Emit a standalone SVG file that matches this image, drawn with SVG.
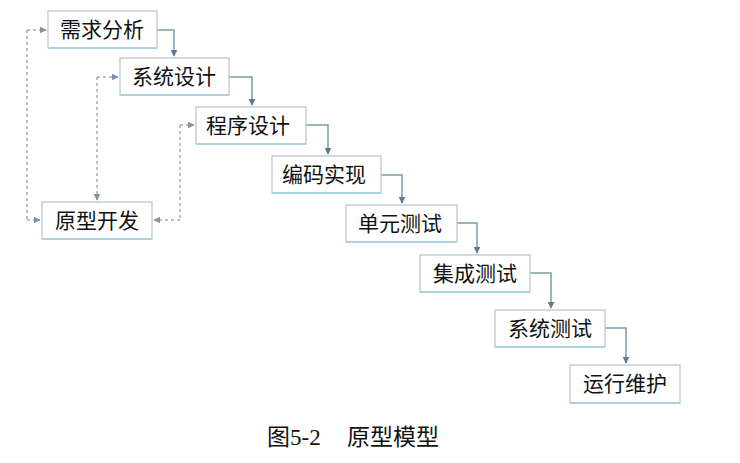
<svg xmlns="http://www.w3.org/2000/svg" width="740" height="463" viewBox="0 0 740 463">
<defs>
<style>
.box{fill:#ffffff;stroke:#b7c3c9;stroke-width:1.2}
.base{stroke:#a9d3dc;stroke-width:2}
.lbl{font-family:"Noto Sans CJK SC","Liberation Serif",serif;font-size:21px;fill:#111111;text-anchor:middle}
.flow{fill:none;stroke:#7d9aab;stroke-width:1.5}
.dash{fill:none;stroke:#a6acb2;stroke-width:1.5;stroke-dasharray:3 3}
.cap{font-family:"Liberation Serif","Noto Sans CJK SC",serif;font-size:23px;fill:#111111}
</style>
<marker id="ah" viewBox="0 0 10 10" refX="9" refY="5" markerWidth="7" markerHeight="7" orient="auto" markerUnits="userSpaceOnUse">
<path d="M0,0 L10,5 L0,10 z" fill="#5d7b90"/>
</marker>
<marker id="ahd" viewBox="0 0 10 10" refX="9" refY="5" markerWidth="7" markerHeight="7" orient="auto" markerUnits="userSpaceOnUse">
<path d="M0,0 L10,5 L0,10 z" fill="#7e94a6"/>
</marker>
</defs>
<rect width="740" height="463" fill="#ffffff"/>
<g id="connectors">
<path class="flow" d="M157,30 H174 V56" marker-end="url(#ah)"/>
<path class="flow" d="M229,77 H252 V105" marker-end="url(#ah)"/>
<path class="flow" d="M306,125 H328 V154" marker-end="url(#ah)"/>
<path class="flow" d="M381,175 H402 V203" marker-end="url(#ah)"/>
<path class="flow" d="M457,223 H477 V253" marker-end="url(#ah)"/>
<path class="flow" d="M530,273 H551 V308" marker-end="url(#ah)"/>
<path class="flow" d="M605,328 H626 V363" marker-end="url(#ah)"/>
<path class="dash" d="M27,30 V220"/>
<path class="dash" d="M27,30 H46" marker-end="url(#ahd)"/>
<path class="dash" d="M27,220 H40" marker-end="url(#ahd)"/>
<path class="dash" d="M97,77 V200" marker-end="url(#ahd)"/>
<path class="dash" d="M97,77 H118" marker-end="url(#ahd)"/>
<path class="dash" d="M180,125 V220"/>
<path class="dash" d="M180,125 H194" marker-end="url(#ahd)"/>
<path class="dash" d="M180,220 H154" marker-end="url(#ahd)"/>
</g>
<g id="n1"><rect class="box" x="48" y="11" width="109" height="37"/><line class="base" x1="48" y1="48" x2="157" y2="48"/><text class="lbl" x="102" y="37">需求分析</text></g>
<g id="n2"><rect class="box" x="120" y="58" width="109" height="37"/><line class="base" x1="120" y1="95" x2="229" y2="95"/><text class="lbl" x="174" y="84">系统设计</text></g>
<g id="n3"><rect class="box" x="196" y="107" width="110" height="37"/><line class="base" x1="196" y1="144" x2="306" y2="144"/><text class="lbl" x="248" y="133">程序设计</text></g>
<g id="n4"><rect class="box" x="272" y="156" width="109" height="37"/><line class="base" x1="272" y1="193" x2="381" y2="193"/><text class="lbl" x="324" y="182">编码实现</text></g>
<g id="n5"><rect class="box" x="346" y="205" width="111" height="37"/><line class="base" x1="346" y1="242" x2="457" y2="242"/><text class="lbl" x="400" y="231">单元测试</text></g>
<g id="n6"><rect class="box" x="420" y="255" width="110" height="37"/><line class="base" x1="420" y1="292" x2="530" y2="292"/><text class="lbl" x="475" y="281">集成测试</text></g>
<g id="n7"><rect class="box" x="495" y="310" width="110" height="37"/><line class="base" x1="495" y1="347" x2="605" y2="347"/><text class="lbl" x="550" y="336">系统测试</text></g>
<g id="n8"><rect class="box" x="570" y="365" width="110" height="38"/><line class="base" x1="570" y1="403" x2="680" y2="403"/><text class="lbl" x="625" y="391">运行维护</text></g>
<g id="n0"><rect class="box" x="42" y="202" width="110" height="37"/><line class="base" x1="42" y1="239" x2="152" y2="239"/><text class="lbl" x="97" y="228">原型开发</text></g>
<text class="cap" x="267" y="445">图5-2<tspan x="347">原型模型</tspan></text>
</svg>
